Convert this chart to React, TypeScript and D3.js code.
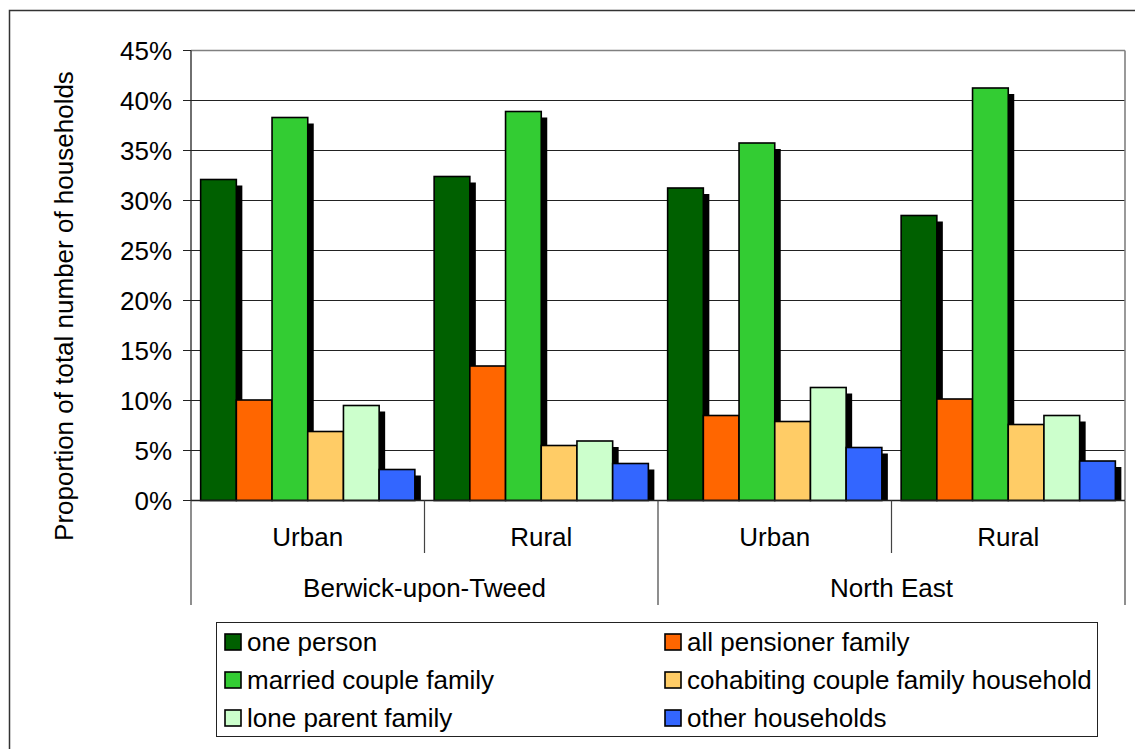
import React from "react";
import * as d3 from "d3";

const groups = ["Urban", "Rural", "Urban", "Rural"];
const regions = ["Berwick-upon-Tweed", "North East"];
const seriesNames = [
  "one person",
  "all pensioner family",
  "married couple family",
  "cohabiting couple family household",
  "lone parent family",
  "other households",
];
const seriesColors = ["#006000", "#FF6600", "#33CC33", "#FFCC66", "#CCFFCC", "#3366FF"];
const onePerson = [32.1, 32.4, 31.25, 28.5];
const allPensioner = [10.05, 13.45, 8.5, 10.15];
const married = [38.3, 38.9, 35.75, 41.25];
const cohabiting = [6.9, 5.5, 7.9, 7.6];
const loneParent = [9.5, 5.95, 11.3, 8.5];
const otherHouseholds = [3.1, 3.7, 5.3, 3.95];
const yTicks = [0, 5, 10, 15, 20, 25, 30, 35, 40, 45];

const seriesValues = [onePerson, allPensioner, married, cohabiting, loneParent, otherHouseholds];

const W = 1135;
const H = 749;
const FONT = "'Liberation Sans', Arial, sans-serif";
const FS = 26;

export default function App() {
  const left = 191;
  const right = 1125;
  const top = 50.5;
  const bottom = 500.5;

  const y = d3.scaleLinear().domain([0, 45]).range([bottom, top]);
  const x0 = d3.scaleBand<number>().domain(d3.range(groups.length)).range([left, right]).padding(0);
  const x1 = d3
    .scaleBand<number>()
    .domain(d3.range(seriesNames.length))
    .range([0, x0.bandwidth()])
    .paddingInner(0)
    .paddingOuter(0.27);
  const shadow = 6;

  const bars: React.ReactNode[] = [];
  groups.forEach((g, gi) => {
    seriesValues.forEach((vals, si) => {
      const bx = x0(gi)! + x1(si)!;
      const bw = x1.bandwidth();
      const by = y(vals[gi]);
      const bh = bottom - by;
      bars.push(
        <rect
          key={`s${gi}-${si}`}
          x={bx + shadow}
          y={by + shadow}
          width={bw}
          height={Math.max(0, bh - shadow)}
          fill="#000"
        />
      );
      bars.push(
        <rect
          key={`b${gi}-${si}`}
          x={bx}
          y={by}
          width={bw}
          height={bh}
          fill={seriesColors[si]}
          stroke="#000"
          strokeWidth={1.6}
        />
      );
    });
  });

  const edges = d3.range(groups.length + 1).map((k) => left + k * x0.step());

  const legendX = 216;
  const legendY = 622;
  const legendW = 881;
  const legendH = 114;
  const rowY = [642, 680, 718];
  const colX = [225, 665];

  return (
    <svg
      width={W}
      height={H}
      style={{ position: "absolute", left: 0, top: 0, background: "#fff" }}
      fontFamily={FONT}
    >
      <rect x={0} y={0} width={W} height={H} fill="#fff" />
      <rect x={9.5} y={10.5} width={W + 20} height={H + 20} fill="none" stroke="#333" strokeWidth={1.5} />

      {/* gridlines */}
      {yTicks.map((t) => (
        <line
          key={`g${t}`}
          x1={left}
          x2={right}
          y1={y(t)}
          y2={y(t)}
          stroke={t === 45 ? "#808080" : "#222"}
          strokeWidth={t === 45 ? 1.6 : 1}
        />
      ))}
      <line x1={right} x2={right} y1={top} y2={bottom} stroke="#808080" strokeWidth={1.6} />

      {bars}

      {/* axes */}
      <line x1={left} x2={left} y1={top} y2={bottom} stroke="#222" strokeWidth={1.3} />
      <line x1={left} x2={right} y1={bottom} y2={bottom} stroke="#222" strokeWidth={1.3} />
      {yTicks.map((t) => (
        <g key={`t${t}`}>
          <line x1={183} x2={left} y1={y(t)} y2={y(t)} stroke="#222" strokeWidth={1} />
          <text x={172} y={y(t)} dy="0.35em" textAnchor="end" fontSize={FS} fill="#000">
            {t}%
          </text>
        </g>
      ))}

      {/* category separators */}
      {edges.map((ex, k) => (
        <line
          key={`e${k}`}
          x1={ex}
          x2={ex}
          y1={bottom}
          y2={k % 2 === 0 ? 605 : 553}
          stroke="#444"
          strokeWidth={1.2}
        />
      ))}
      {groups.map((g, gi) => (
        <text
          key={`c${gi}`}
          x={x0(gi)! + x0.bandwidth() / 2}
          y={537}
          dy="0.35em"
          textAnchor="middle"
          fontSize={FS}
          fill="#000"
        >
          {g}
        </text>
      ))}
      {regions.map((r, ri) => (
        <text
          key={`r${ri}`}
          x={(edges[ri * 2] + edges[ri * 2 + 2]) / 2}
          y={588}
          dy="0.35em"
          textAnchor="middle"
          fontSize={FS}
          fill="#000"
        >
          {r}
        </text>
      ))}

      {/* y-axis title */}
      <text
        transform={`translate(64,306) rotate(-90)`}
        dy="0.35em"
        textAnchor="middle"
        fontSize={FS}
        fill="#000"
      >
        Proportion of total number of households
      </text>

      {/* legend */}
      <rect x={legendX + 0.5} y={legendY + 0.5} width={legendW} height={legendH} fill="#fff" stroke="#222" strokeWidth={1} />
      {seriesNames.map((name, i) => {
        const col = i % 2;
        const row = Math.floor(i / 2);
        const sx = colX[col];
        const sy = rowY[row];
        return (
          <g key={`l${i}`}>
            <rect x={sx} y={sy - 8} width={16} height={16} fill={seriesColors[i]} stroke="#000" strokeWidth={1.6} />
            <text x={sx + 22} y={sy} dy="0.35em" fontSize={FS} fill="#000">
              {name}
            </text>
          </g>
        );
      })}
    </svg>
  );
}
